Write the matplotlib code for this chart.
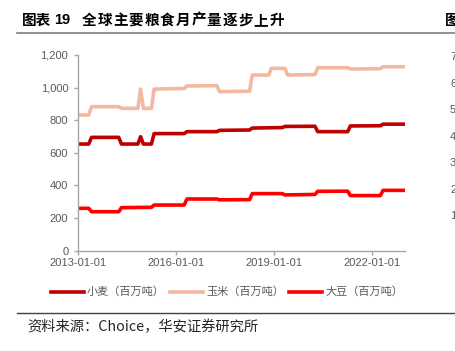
import numpy as np
import pandas as pd
import matplotlib
matplotlib.use('Agg')
import matplotlib.pyplot as plt
import matplotlib.dates as mdates
from matplotlib.lines import Line2D

plt.rcParams['font.family'] = ['Liberation Sans', 'Noto Sans CJK SC', 'DejaVu Sans']

# vertices of each monthly series (million tonnes)
wheat_dates = ['2013-01', '2013-05', '2013-06', '2014-04', '2014-05', '2014-11', '2014-12', '2015-01',
               '2015-04', '2015-05', '2016-04', '2016-05', '2017-04', '2017-05', '2018-04', '2018-05',
               '2019-04', '2019-05', '2020-04', '2020-05', '2021-04', '2021-05', '2022-04', '2022-05', '2023-01']
wheat = [654, 654, 695, 695, 654, 654, 699, 654,
         654, 718, 718, 730, 730, 738, 740, 752,
         755, 762, 763, 730, 730, 765, 766, 776, 776]

corn_dates = ['2013-01', '2013-05', '2013-06', '2014-04', '2014-05', '2014-11', '2014-12', '2015-01',
              '2015-04', '2015-05', '2016-04', '2016-05', '2017-04', '2017-05', '2018-04', '2018-05',
              '2018-11', '2018-12', '2019-05', '2019-06', '2020-04', '2020-05', '2021-04', '2021-05',
              '2022-04', '2022-05', '2023-01']
corn = [832, 832, 883, 883, 873, 873, 991, 873,
        873, 991, 995, 1010, 1012, 975, 978, 1077,
        1077, 1118, 1118, 1077, 1080, 1122, 1122, 1114,
        1116, 1128, 1128]

soy_dates = ['2013-01', '2013-05', '2013-06', '2014-04', '2014-05', '2015-04', '2015-05', '2016-04',
             '2016-05', '2017-04', '2017-05', '2018-04', '2018-05', '2019-04', '2019-05', '2020-04',
             '2020-05', '2021-04', '2021-05', '2022-04', '2022-05', '2023-01']
soy = [260, 260, 239, 239, 264, 266, 280, 280,
       317, 317, 312, 313, 350, 350, 342, 345,
       364, 365, 338, 338, 370, 370]

names = ['小麦（百万吨）', '玉米（百万吨）', '大豆（百万吨）']
colors = ['#C00000', '#F4B8A0', '#FF0000']
xticks = ['2013-01-01', '2016-01-01', '2019-01-01', '2022-01-01']

W, H = 455, 351
fig = plt.figure(figsize=(W / 100, H / 100), dpi=100)

def px(x, y):
    return x / W, 1 - y / H

ax = fig.add_axes([78 / W, 1 - 250.7 / H, (405 - 78) / W, (250.7 - 55) / H])
for d, v, c in zip([wheat_dates, corn_dates, soy_dates], [wheat, corn, soy], colors):
    ax.plot(pd.to_datetime(d), v, color=c, lw=2.6, solid_joinstyle='round')

ax.set_ylim(0, 1200)
ax.set_yticks(range(0, 1201, 200))
ax.yaxis.set_major_formatter(matplotlib.ticker.FuncFormatter(lambda v, p: f'{int(v):,}'))
ax.set_xlim(pd.Timestamp('2013-01-01'), pd.Timestamp('2023-01-01'))
ax.set_xticks(pd.to_datetime(xticks))
ax.xaxis.set_major_formatter(mdates.DateFormatter('%Y-%m-%d'))
for s in ['top', 'right']:
    ax.spines[s].set_visible(False)
for s in ['left', 'bottom']:
    ax.spines[s].set_color('#A6A6A6')
    ax.spines[s].set_linewidth(1.0)
ax.tick_params(colors='#A6A6A6', labelcolor='#595959', labelsize=8, length=3, width=1.0)
ax.tick_params(axis='y', pad=4)
ax.tick_params(axis='x', pad=2)

# legend
for (x0, x1, tx), name, c in zip([(51, 84, 87), (170, 203, 206), (289, 322, 325)], names, colors):
    x_a, y_a = px(x0, 292)
    x_b, _ = px(x1, 292)
    fig.add_artist(Line2D([x_a, x_b], [y_a, y_a], color=c, lw=2.6, transform=fig.transFigure))
    fig.text(*px(tx, 292), name, fontsize=8, color='#595959', va='center', ha='left',
             family=['Noto Sans CJK SC'])

# header (characters spaced out like the report typesetting)
fig.text(*px(22, 20), '图表', fontsize=10.5, fontweight='bold', va='center', ha='left',
         family=['Noto Sans CJK SC'])
fig.text(*px(54, 20), '19', fontsize=10.5, fontweight='bold', va='center', ha='left',
         family=['Liberation Sans'])
for i, ch in enumerate('全球主要粮食月产量逐步上升'):
    fig.text(*px(82 + i * 15.6, 20), ch, fontsize=10.5, fontweight='bold', va='center', ha='left',
             family=['Noto Sans CJK SC'])
fig.add_artist(Line2D([17 / W, 1], [1 - 33 / H, 1 - 33 / H], color='#7F7F7F', lw=1.2,
                      transform=fig.transFigure))
fig.text(*px(445, 20), '图', fontsize=10.5, fontweight='bold', va='center', ha='left',
         family=['Noto Sans CJK SC'])
for i, yy in enumerate([57, 84, 110, 137, 163, 190, 216]):
    fig.text(*px(450, yy), str(7 - i), fontsize=8, color='#595959', va='center', ha='left')

# footer
fig.add_artist(Line2D([17 / W, 1], [1 - 313 / H, 1 - 313 / H], color='#404040', lw=1.0,
                      transform=fig.transFigure))
fig.text(*px(27, 327), '资料来源：Choice，华安证券研究所', fontsize=10.3, color='#262626',
         va='center', ha='left', family=['Noto Sans CJK SC', 'Liberation Sans'])

fig.savefig('out.png', dpi=100)
